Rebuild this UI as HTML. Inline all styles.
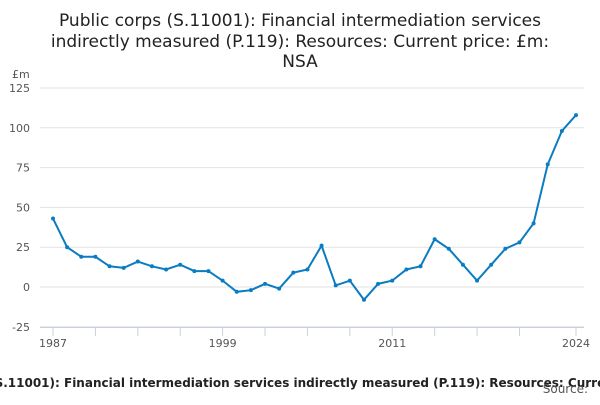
<!DOCTYPE html>
<html><head><meta charset="utf-8"><style>
body{margin:0;background:#fff;width:600px;height:400px;overflow:hidden;font-family:"Liberation Sans","DejaVu Sans",sans-serif}
</style></head><body>
<svg id="c" width="600" height="400" xmlns="http://www.w3.org/2000/svg" font-family="DejaVu Sans, Liberation Sans, sans-serif">
<g font-size="17" fill="#222" text-anchor="middle">
<text x="300" y="26">Public corps (S.11001): Financial intermediation services</text>
<text x="300" y="47">indirectly measured (P.119): Resources: Current price: £m:</text>
<text x="300" y="67">NSA</text>
</g>
<text x="12" y="78" font-size="11" fill="#555">£m</text>
<g id="grid"></g><g id="yt"></g><g id="xt"></g>
<polyline id="line" fill="none" stroke="#0a7cc1" stroke-width="2"/>
<g id="pts"></g>
<text x="280" y="387" font-size="12" font-weight="bold" fill="#222" text-anchor="middle">Public corps (S.11001): Financial intermediation services indirectly measured (P.119): Resources: Current price</text>
<text x="588" y="393" font-size="12" fill="#555" text-anchor="end">Source:</text>
</svg>
<script>
const years=[1987,1988,1989,1990,1991,1992,1993,1994,1995,1996,1997,1998,1999,2000,2001,2002,2003,2004,2005,2006,2007,2008,2009,2010,2011,2012,2013,2014,2015,2016,2017,2018,2019,2020,2021,2022,2023,2024];
const values=[43,25,19,19,13,12,16,13,11,14,10,10,4,-3,-2,2,-1,9,11,26,1,4,-8,2,4,11,13,30,24,14,4,14,24,28,40,77,98,108];
const yTicks=[-25,0,25,50,75,100,125];
const xTickYears=[1987,1990,1993,1996,1999,2002,2005,2008,2011,2014,2017,2020,2024];
const xLabels=[1987,1999,2011,2024];
const NS="http://www.w3.org/2000/svg";
const x=v=>53+(v-1987)*(576-53)/37;
const y=v=>287-v*39.8/25;
function mk(t,a,p){const e=document.createElementNS(NS,t);for(const k in a)e.setAttribute(k,a[k]);p.appendChild(e);return e;}
const g=document.getElementById('grid'),yt=document.getElementById('yt'),xt=document.getElementById('xt'),pts=document.getElementById('pts');
yTicks.forEach(v=>{
 const l=mk('line',{x1:40,x2:584,y1:y(v),y2:y(v),stroke:'#e2e2e2','stroke-width':1},g);
 
 
 const t=mk('text',{x:30,y:y(v)+4,'font-size':11,fill:'#555','text-anchor':'end'},yt);
 t.textContent=v;
 
 
});
const ax=mk('line',{x1:40,x2:584,y1:327.5,y2:327.5,stroke:'#c8d0e0','stroke-width':1},xt);


xTickYears.forEach(v=>{
 const l=mk('line',{x1:x(v),x2:x(v),y1:327,y2:336,stroke:'#c8d0e0','stroke-width':1},xt);
 
 
});
xLabels.forEach(v=>{
 const t=mk('text',{x:x(v),y:347,'font-size':11,fill:'#555','text-anchor':'middle'},xt);
 t.textContent=v;
 
 
});
document.getElementById('line').setAttribute('points',years.map((yr,i)=>x(yr)+','+y(values[i])).join(' '));
years.forEach((yr,i)=>{
 const c=mk('circle',{cx:x(yr),cy:y(values[i]),r:2,fill:'#0a7cc1'},pts);
 
 
});
</script>
</body></html>
